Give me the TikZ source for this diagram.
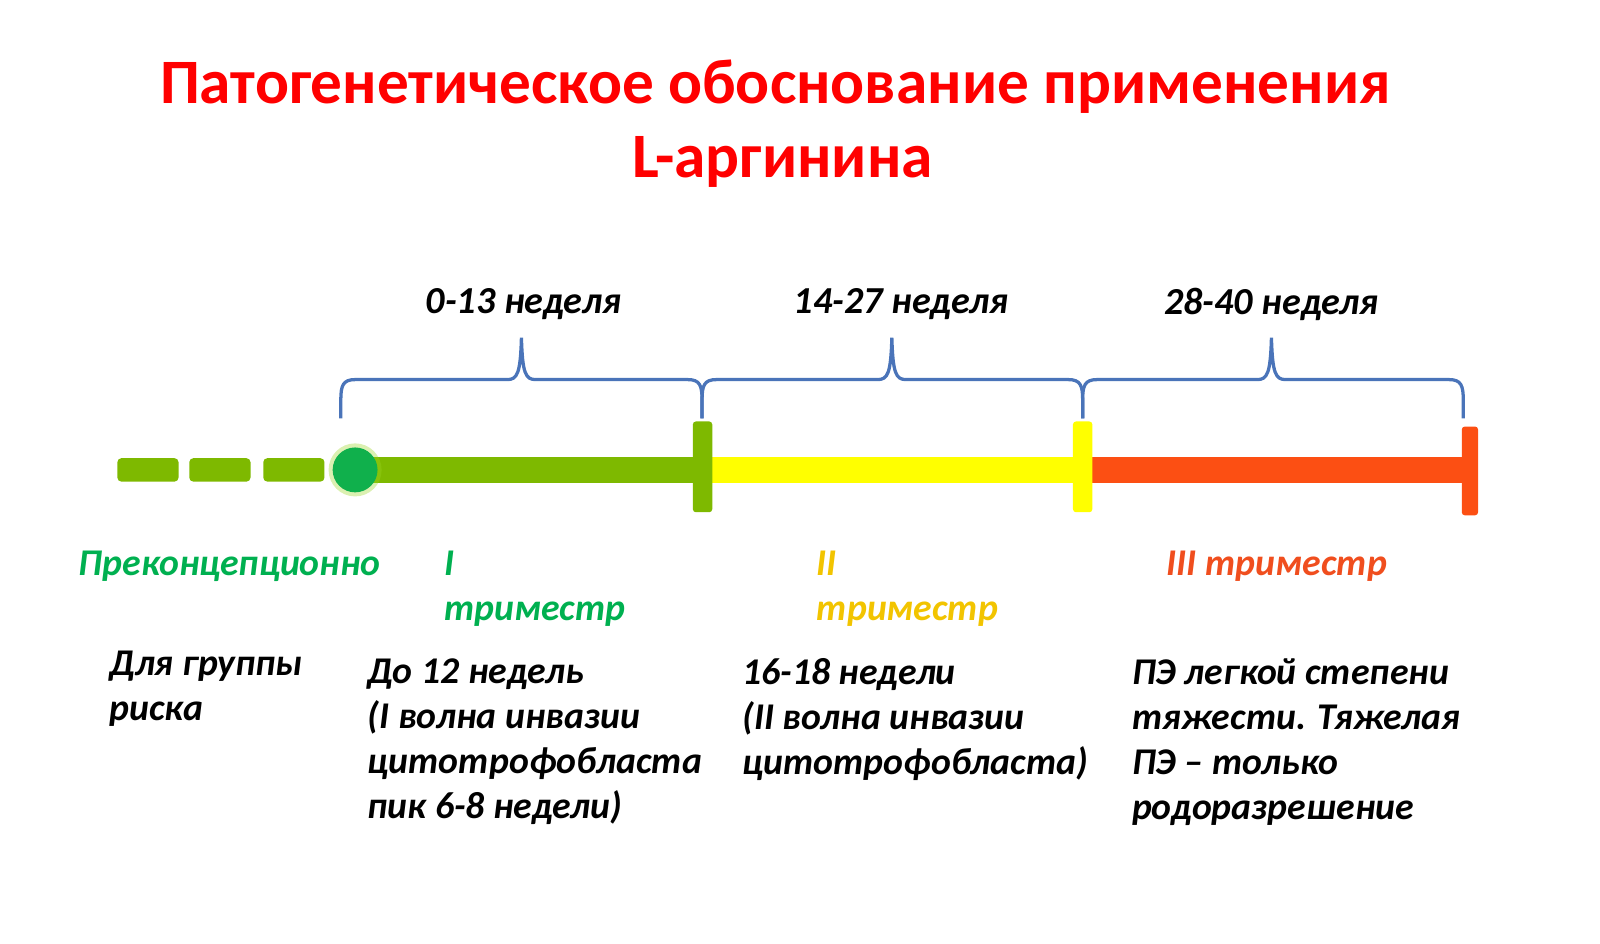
\documentclass[tikz,border=0pt]{standalone}
\usepackage{fontspec}
\setmainfont{Carlito}
\definecolor{titlered}{RGB}{255,0,0}
\definecolor{bargreen}{RGB}{126,185,0}
\definecolor{dotgreen}{RGB}{16,176,76}
\definecolor{baryellow}{RGB}{255,255,0}
\definecolor{barred}{RGB}{252,79,19}
\definecolor{braceblue}{RGB}{74,116,185}
\definecolor{labgreen}{RGB}{0,176,80}
\definecolor{labyellow}{RGB}{242,196,0}
\definecolor{labred}{RGB}{240,78,30}
\begin{document}
\begin{tikzpicture}[x=0.5pt,y=-0.5pt,
  titlestyle/.style={font=\bfseries\fontsize{31}{37}\selectfont, text=titlered, inner sep=0pt},
  weekstyle/.style={font=\bfseries\itshape\fontsize{18.7}{22}\selectfont, inner sep=0pt},
  trimstyle/.style={font=\bfseries\itshape\fontsize{18.5}{22}\selectfont, inner sep=0pt, align=left, anchor=north west},
  bodystyle/.style={font=\bfseries\itshape\fontsize{18.5}{22}\selectfont, inner sep=0pt, align=left, anchor=north west},
  dashbox/.style={fill=bargreen, rounded corners=2pt, minimum width=30pt, minimum height=11.5pt, inner sep=0pt},
  ticbox/.style={rounded corners=1.5pt, inner sep=0pt},
  bracestyle/.style={draw=braceblue, line width=1.6pt},
  barline/.style={line width=13pt}
]
\useasboundingbox (0,0) rectangle (1568,925);

% title
\node[titlestyle] (title1) at (760,85) {Патогенетическое обоснование применения};
\node[titlestyle] (title2) at (767,159) {L-аргинина};

% week labels
\node[weekstyle] (w1) at (513,298) {0-13 неделя};
\node[weekstyle] (w2) at (883,298) {14-27 неделя};
\node[weekstyle] (w3) at (1246,298) {28-40 неделя};

% braces
\foreach \a/\p/\b in {334/511/688, 688/874/1061, 1061/1246/1434} {
  \draw[bracestyle] (\a,410) -- (\a,392) .. controls (\a,378) and (\a+2,372) .. (\a+14,372)
    -- (\p-14,372) .. controls (\p-4,372) and (\p-1,366) .. (\p,331)
    .. controls (\p+1,366) and (\p+4,372) .. (\p+14,372)
    -- (\b-14,372) .. controls (\b-2,372) and (\b,378) .. (\b,392) -- (\b,410);
}

% timeline
\coordinate (c0) at (348,460.5);
\coordinate (c1) at (688.5,460.5);
\coordinate (c2) at (1061,460.5);
\coordinate (c3) at (1440.5,460.5);
\draw[barline, draw=bargreen] (c0) -- (c1);
\draw[barline, draw=baryellow] (c1) -- (c2);
\draw[barline, draw=barred] (c2) -- (c3);

\node[dashbox] (d1) at (145,460.5) {};
\node[dashbox] (d2) at (215.5,460.5) {};
\node[dashbox] (d3) at (288,460.5) {};

\fill[yellow!60!green, opacity=0.35] (c0) circle[radius=13pt];
\node[circle, fill=dotgreen, minimum size=22pt, inner sep=0pt] (dot) at (c0) {};

\node[ticbox, fill=bargreen, minimum width=9.5pt, minimum height=44.5pt] (tk1) at (688.5,457.5) {};
\node[ticbox, fill=baryellow, minimum width=9.5pt, minimum height=44.5pt] (tk2) at (1061,457.5) {};
\node[ticbox, fill=barred, minimum width=8pt, minimum height=43.5pt] (tk3) at (1440.5,461.5) {};

% trimester labels
\node[trimstyle, text=labgreen] (l0) at (77,540) {Преконцепционно};
\node[trimstyle, text=labgreen] (l1) at (435,540) {I\\триместр};
\node[trimstyle, text=labyellow] (l2) at (800,540) {II\\триместр};
\node[trimstyle, text=labred] (l3) at (1143,540) {III триместр};

% descriptions
\node[bodystyle] (b0) at (107,638) {Для группы\\риска};
\node[bodystyle] (b1) at (360,645) {До 12 недель\\(I волна инвазии\\цитотрофобласта\\пик 6-8 недели)};
\node[bodystyle] (b2) at (727,645) {16-18 недели\\(II волна инвазии\\цитотрофобласта)};
\node[bodystyle] (b3) at (1109,645) {ПЭ легкой степени\\тяжести. Тяжелая\\ПЭ – только\\родоразрешение};
\end{tikzpicture}
\end{document}
